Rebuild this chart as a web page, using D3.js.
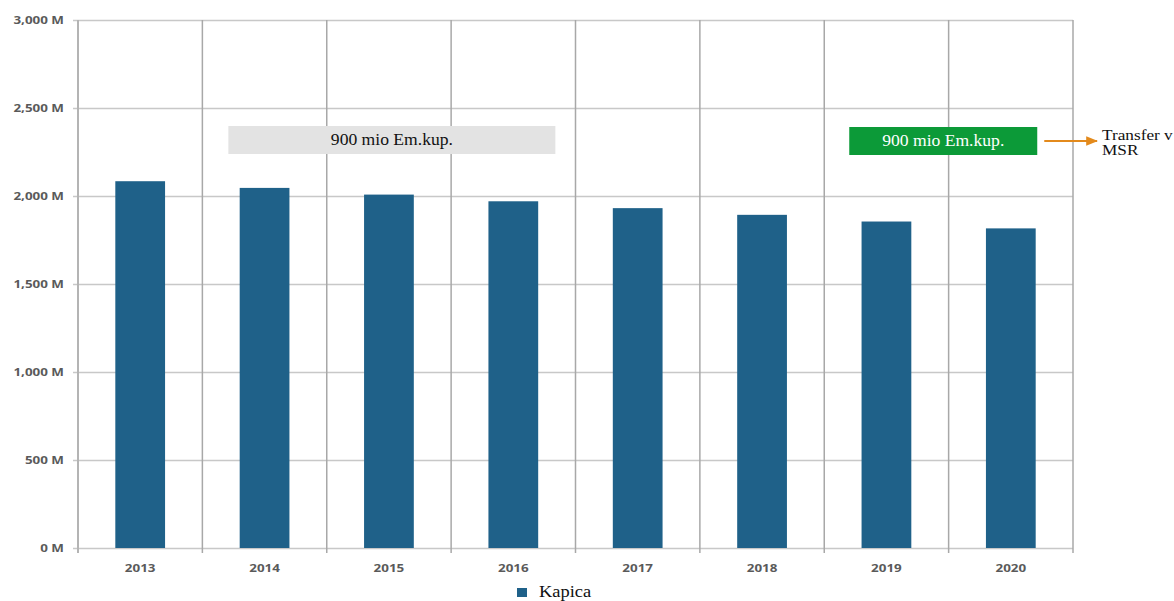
<!DOCTYPE html>
<html>
<head>
<meta charset="utf-8">
<script src="https://cdn.jsdelivr.net/npm/d3@7"></script>
<style>
  html, body { margin: 0; padding: 0; background: #fff; }
  svg { display: block; }
</style>
</head>
<body>
<svg id="chart" width="1174" height="601"></svg>
<script>
// Annual emission cap (millions of allowances)
const years = ["2013", "2014", "2015", "2016", "2017", "2018", "2019", "2020"];
const capValues = [2084, 2046, 2008, 1970, 1931, 1893, 1855, 1816];
const yTicks = [0, 500, 1000, 1500, 2000, 2500, 3000];
const seriesName = "Kapica";
const noteText = "900 mio Em.kup.";
const transferLines = ["Transfer v", "MSR"];

const svg = d3.select("#chart");
const margin = { left: 78, right: 101, top: 20, bottom: 53 };
const W = 1174, H = 601;
const x0 = margin.left, x1 = W - margin.right;
const y0 = H - margin.bottom, y1 = margin.top;

const x = d3.scaleBand().domain(years).range([x0, x1]).paddingInner(0).paddingOuter(0);
const y = d3.scaleLinear().domain([0, 3000]).range([y0, y1]);

const axisFont = "'Open Sans', 'DejaVu Sans', sans-serif";
const serif = "'Liberation Serif', 'DejaVu Serif', serif";

// Text is drawn horizontally widened, as in the source layout
function wide(sel, px, py, sx) {
  return sel.attr("transform", `translate(${px},${py}) scale(${sx},1)`);
}

// Horizontal grid + y tick marks
const gridG = svg.append("g");
gridG.selectAll("line.h").data(yTicks).join("line")
  .attr("x1", x0 - 5).attr("x2", x1)
  .attr("y1", d => y(d) + 0.5).attr("y2", d => y(d) + 0.5)
  .attr("stroke", "#c8c8c8").attr("stroke-width", 1.5);

// Vertical category separators
const seps = years.map(d => x(d) + x.bandwidth());
gridG.selectAll("line.v").data(seps).join("line")
  .attr("x1", d => d).attr("x2", d => d)
  .attr("y1", y1).attr("y2", y0 + 5)
  .attr("stroke", "#a8a8a8").attr("stroke-width", 1.5);

// Left axis line
gridG.append("line")
  .attr("x1", x0).attr("x2", x0).attr("y1", y1).attr("y2", y0 + 5)
  .attr("stroke", "#b4b4b4").attr("stroke-width", 2);

// Bars
const barW = x.bandwidth() * 0.4;
svg.append("g").selectAll("rect").data(years).join("rect")
  .attr("x", d => x(d) + (x.bandwidth() - barW) / 2)
  .attr("width", barW)
  .attr("y", (d, i) => y(capValues[i]))
  .attr("height", (d, i) => y(0) - y(capValues[i]))
  .attr("fill", "#1f6189");

// Y axis labels
svg.append("g").selectAll("text").data(yTicks).join("text")
  .each(function (d) { wide(d3.select(this), x0 - 14, y(d) + 4, 1.22); })
  .attr("text-anchor", "end")
  .attr("font-family", axisFont).attr("font-size", 11).attr("font-weight", 700)
  .attr("fill", "#5a5a5a")
  .text(d => d3.format(",")(d) + " M");

// X axis labels
svg.append("g").selectAll("text").data(years).join("text")
  .each(function (d) { wide(d3.select(this), x(d) + x.bandwidth() / 2, y0 + 24, 1.22); })
  .attr("text-anchor", "middle")
  .attr("font-family", axisFont).attr("font-size", 11).attr("font-weight", 700)
  .attr("fill", "#5a5a5a")
  .text(d => d);

// Annotation boxes
const boxY = y(2500) + 18;
const greyBox = svg.append("g");
greyBox.append("rect")
  .attr("x", x("2014") + 26).attr("y", boxY)
  .attr("width", 327).attr("height", 28)
  .attr("fill", "#e3e3e3");
wide(greyBox.append("text"), x("2014") + 26 + 327 / 2, boxY + 19, 1.1)
  .attr("text-anchor", "middle")
  .attr("font-family", serif).attr("font-size", 16).attr("fill", "#111")
  .text(noteText);

const greenBox = svg.append("g");
const gx = x("2019") + 25;
greenBox.append("rect")
  .attr("x", gx).attr("y", boxY + 1)
  .attr("width", 188).attr("height", 28)
  .attr("fill", "#0c9a38");
wide(greenBox.append("text"), gx + 94, boxY + 20, 1.1)
  .attr("text-anchor", "middle")
  .attr("font-family", serif).attr("font-size", 16).attr("fill", "#fff")
  .text(noteText);

// Arrow to MSR
svg.append("defs").append("marker")
  .attr("id", "arrow").attr("viewBox", "0 0 10 10")
  .attr("refX", 9).attr("refY", 5)
  .attr("markerWidth", 6).attr("markerHeight", 6)
  .attr("orient", "auto")
  .append("path").attr("d", "M0,1 L10,5 L0,9 Z").attr("fill", "#e38a1c");
svg.append("line")
  .attr("x1", gx + 195).attr("x2", 1097)
  .attr("y1", boxY + 15).attr("y2", boxY + 15)
  .attr("stroke", "#e38a1c").attr("stroke-width", 2)
  .attr("marker-end", "url(#arrow)");
svg.append("g").selectAll("text").data(transferLines).join("text")
  .each(function (d, i) { wide(d3.select(this), 1102, boxY + 14 + i * 15, 1.15); })
  .attr("font-family", serif).attr("font-size", 15).attr("fill", "#111")
  .text(d => d);

// Legend
const lg = svg.append("g");
lg.append("rect").attr("x", 517).attr("y", 588).attr("width", 10).attr("height", 9).attr("fill", "#1f6189");
wide(lg.append("text"), 539, 597, 1.15)
  .attr("font-family", serif).attr("font-size", 16).attr("fill", "#111")
  .text(seriesName);
</script>
</body>
</html>
